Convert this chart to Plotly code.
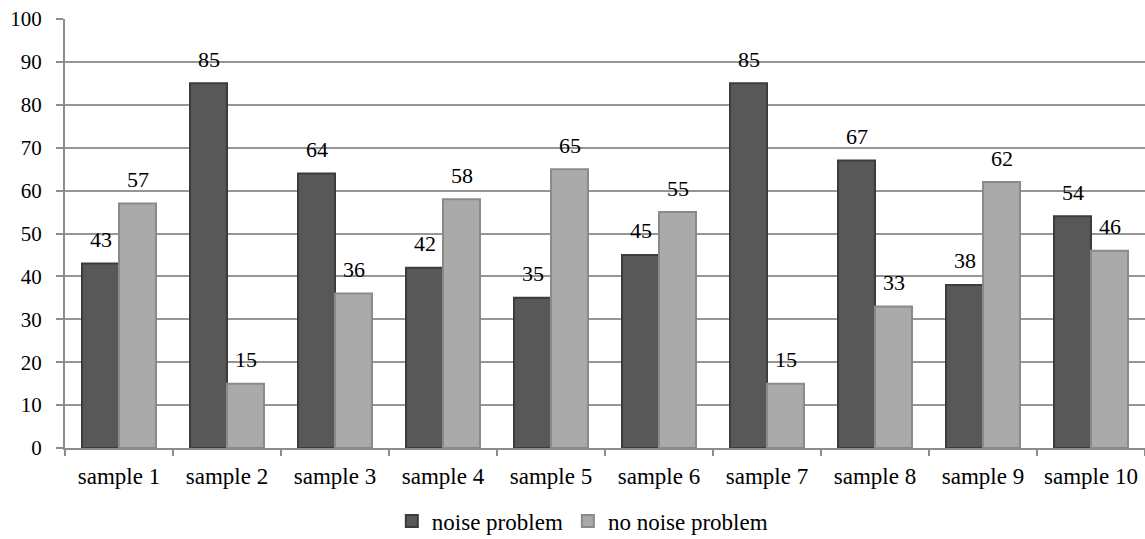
import plotly.graph_objects as go

categories = ["sample 1", "sample 2", "sample 3", "sample 4", "sample 5",
              "sample 6", "sample 7", "sample 8", "sample 9", "sample 10"]
noise = [43, 85, 64, 42, 35, 45, 85, 67, 38, 54]
no_noise = [57, 15, 36, 58, 65, 55, 15, 33, 62, 46]
y_ticks = [0, 10, 20, 30, 40, 50, 60, 70, 80, 90, 100]

FONT = "Liberation Serif"

fig = go.Figure()
fig.add_trace(go.Bar(
    x=categories, y=noise, name="noise problem",
    marker=dict(color="#585858", line=dict(color="#3c3c3c", width=2)),
))
fig.add_trace(go.Bar(
    x=categories, y=no_noise, name="no noise problem",
    marker=dict(color="#aaaaaa", line=dict(color="#8a8a8a", width=2)),
))

# data labels
for i, c in enumerate(categories):
    fig.add_annotation(x=c, y=noise[i], text=str(noise[i]), xshift=-18.5, yshift=24,
                       showarrow=False, font=dict(family=FONT, size=22, color="#000"))
    fig.add_annotation(x=c, y=no_noise[i], text=str(no_noise[i]), xshift=18.5, yshift=24,
                       showarrow=False, font=dict(family=FONT, size=22, color="#000"))

fig.update_layout(
    width=1145, height=539,
    margin=dict(l=65, r=0, t=19, b=91, autoexpand=False),
    paper_bgcolor="white", plot_bgcolor="white",
    barmode="group", bargap=0.315, bargroupgap=0,
    font=dict(family=FONT, size=22, color="#000"),
    legend=dict(orientation="h", x=0.479, xanchor="center", y=-0.17, yanchor="middle",
                font=dict(family=FONT, size=23), itemwidth=30, tracegroupgap=0),
    showlegend=True,
)
fig.update_xaxes(
    showline=True, linecolor="#8c8c8c", linewidth=2,
    ticks="outside", tickson="boundaries", ticklen=6, tickcolor="#8c8c8c", tickwidth=2,
    tickfont=dict(family=FONT, size=23), showgrid=False, ticklabelstandoff=6,
    automargin=False,
)
fig.update_yaxes(
    range=[0, 100], tickvals=y_ticks,
    showline=True, linecolor="#8c8c8c", linewidth=2,
    ticks="outside", ticklen=7, tickcolor="#8c8c8c", tickwidth=2,
    showgrid=True, gridcolor="#959595", gridwidth=1.5,
    tickfont=dict(family=FONT, size=21), zeroline=False, ticklabelstandoff=10,
    automargin=False,
)

fig.write_html("out.html", config={"displayModeBar": False},
               post_script="document.body.style.margin='0';")
